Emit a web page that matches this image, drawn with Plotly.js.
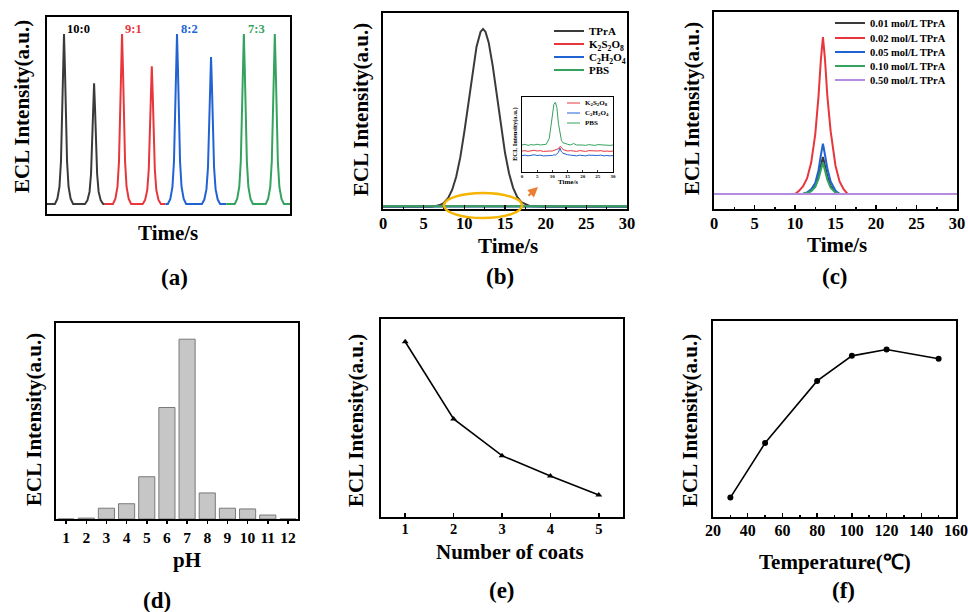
<!DOCTYPE html>
<html><head><meta charset="utf-8">
<script src="https://cdn.plot.ly/plotly-3.0.1.min.js"></script>
<style>html,body{margin:0;padding:0;background:#fff}</style>
</head><body><div id="chart" style="width:968px;height:612px"></div>
<script>
// ---------- DATA ----------
// (a) ECL peaks for four ratios (time in arbitrary units)
const aLabels = ["10:0", "9:1", "8:2", "7:3"];
const aLabelX = [10.5, 28.6, 47, 69];
const aBlackT = [0, 2.6, 3.4, 4.1, 4.6, 5.0, 5.3, 5.6, 5.9, 6.2, 6.6, 7.1, 7.8, 8.6, 12.5, 13.3, 14.0, 14.5, 14.9, 15.2, 15.5, 15.8, 16.1, 16.5, 17.0, 17.7, 18.5, 19];
const aBlackI = [0, 0, 0.03, 0.1, 0.25, 0.5, 0.8, 1, 0.8, 0.5, 0.25, 0.1, 0.03, 0, 0, 0.021, 0.071, 0.178, 0.355, 0.568, 0.71, 0.568, 0.355, 0.178, 0.071, 0.021, 0, 0];
const aRedT = [19, 21.7, 22.5, 23.2, 23.7, 24.1, 24.4, 24.7, 25.0, 25.3, 25.7, 26.2, 26.9, 27.7, 31.5, 32.3, 33.0, 33.5, 33.9, 34.2, 34.5, 34.8, 35.1, 35.5, 36.0, 36.7, 37.5, 39];
const aRedI = [0, 0, 0.03, 0.1, 0.25, 0.5, 0.8, 1, 0.8, 0.5, 0.25, 0.1, 0.03, 0, 0, 0.024, 0.081, 0.203, 0.405, 0.648, 0.81, 0.648, 0.405, 0.203, 0.081, 0.024, 0, 0];
const aBlueT = [39, 39.8, 40.6, 41.3, 41.8, 42.2, 42.5, 42.8, 43.1, 43.4, 43.8, 44.3, 45.0, 45.8, 51.0, 51.8, 52.5, 53.0, 53.4, 53.7, 54.0, 54.3, 54.6, 55.0, 55.5, 56.2, 57.0, 59];
const aBlueI = [0, 0, 0.03, 0.1, 0.25, 0.5, 0.8, 1, 0.8, 0.5, 0.25, 0.1, 0.03, 0, 0, 0.026, 0.087, 0.216, 0.433, 0.692, 0.865, 0.692, 0.433, 0.216, 0.087, 0.026, 0, 0];
const aGreenT = [59, 61.8, 62.6, 63.3, 63.8, 64.2, 64.5, 64.8, 65.1, 65.4, 65.8, 66.3, 67.0, 67.8, 72.0, 72.8, 73.5, 74.0, 74.4, 74.7, 75.0, 75.3, 75.6, 76.0, 76.5, 77.2, 78.0, 80];
const aGreenI = [0, 0, 0.03, 0.1, 0.25, 0.5, 0.8, 1, 0.8, 0.5, 0.25, 0.1, 0.03, 0, 0, 0.03, 0.1, 0.25, 0.5, 0.8, 1, 0.8, 0.5, 0.25, 0.1, 0.03, 0, 0];

// (b) co-reactant comparison
const bNames = ["TPrA", "K<sub>2</sub>S<sub>2</sub>O<sub>8</sub>", "C<sub>2</sub>H<sub>2</sub>O<sub>4</sub>", "PBS"];
const bTprT = [0, 2, 4, 6, 7, 7.5, 8, 8.5, 9, 9.5, 10, 10.5, 11, 11.5, 12, 12.3, 12.6, 13, 13.5, 14, 14.5, 15, 15.5, 16, 16.5, 17, 18, 20, 25, 30];
const bTprI = [0, 0, 0, 0, 0.01, 0.023, 0.049, 0.095, 0.169, 0.278, 0.422, 0.589, 0.759, 0.901, 0.985, 1, 0.985, 0.923, 0.79, 0.624, 0.454, 0.304, 0.188, 0.107, 0.056, 0.027, 0.005, 0, 0, 0];
const bFlatT = [0, 5, 10, 15, 20, 25, 30];
const bK2S2O8I = [0.003, 0.003, 0.003, 0.003, 0.003, 0.003, 0.003];
const bC2H2O4I = [0.002, 0.002, 0.002, 0.002, 0.002, 0.002, 0.002];
const bPbsI = [0.004, 0.004, 0.005, 0.004, 0.004, 0.004, 0.004];
// (b) inset
const insT = [0, 1, 2, 3, 4, 5, 6, 7, 8, 9, 9.5, 10, 10.5, 11, 11.5, 12, 12.5, 13, 13.5, 14, 15, 16, 17, 18, 19, 20, 21, 22, 23, 24, 25, 26, 27, 28, 29, 30];
const insPbs = [0.36, 0.37, 0.355, 0.365, 0.36, 0.37, 0.36, 0.365, 0.37, 0.45, 0.6, 0.8, 0.9, 0.93, 0.86, 0.65, 0.5, 0.42, 0.39, 0.38, 0.37, 0.36, 0.38, 0.36, 0.365, 0.36, 0.355, 0.365, 0.36, 0.355, 0.365, 0.36, 0.355, 0.36, 0.355, 0.36];
const insK2S2O8 = [0.28, 0.285, 0.275, 0.28, 0.29, 0.28, 0.285, 0.275, 0.28, 0.285, 0.28, 0.28, 0.29, 0.29, 0.3, 0.31, 0.34, 0.33, 0.3, 0.29, 0.28, 0.285, 0.28, 0.275, 0.285, 0.28, 0.275, 0.285, 0.28, 0.275, 0.28, 0.285, 0.275, 0.28, 0.275, 0.28];
const insC2H2O4 = [0.22, 0.225, 0.215, 0.22, 0.23, 0.22, 0.225, 0.215, 0.22, 0.225, 0.22, 0.22, 0.23, 0.225, 0.24, 0.26, 0.32, 0.27, 0.25, 0.24, 0.23, 0.225, 0.22, 0.215, 0.225, 0.22, 0.215, 0.225, 0.22, 0.215, 0.22, 0.225, 0.215, 0.22, 0.215, 0.22];

// (c) TPrA concentration
const cNames = ["0.01 mol/L TPrA", "0.02 mol/L TPrA", "0.05 mol/L TPrA", "0.10 mol/L TPrA", "0.50 mol/L TPrA"];
const cT = [0, 5, 10, 10.5, 11, 11.5, 12, 12.5, 12.9, 13.2, 13.45, 13.7, 14.0, 14.4, 15.0, 15.5, 16, 16.5, 20, 25, 30];
const c001 = [0, 0, 0, 0, 0, 0.008, 0.02, 0.05, 0.11, 0.18, 0.236, 0.18, 0.11, 0.05, 0.01, 0, 0, 0, 0, 0, 0];
const c002 = [0, 0, 0, 0.02, 0.05, 0.1, 0.2, 0.38, 0.62, 0.86, 1, 0.86, 0.62, 0.4, 0.18, 0.08, 0.03, 0, 0, 0, 0];
const c005 = [0, 0, 0, 0, 0, 0.01, 0.03, 0.07, 0.15, 0.25, 0.32, 0.25, 0.16, 0.08, 0.02, 0, 0, 0, 0, 0, 0];
const c010 = [0, 0, 0, 0, 0, 0.007, 0.018, 0.045, 0.095, 0.155, 0.2, 0.15, 0.09, 0.04, 0.008, 0, 0, 0, 0, 0, 0];
const c050 = [0, 0, 0, 0, 0, 0, 0, 0, 0, 0, 0, 0, 0, 0, 0, 0, 0, 0, 0, 0, 0];

// (d) pH
const dPH = [1, 2, 3, 4, 5, 6, 7, 8, 9, 10, 11, 12];
const dI = [0, 0.005, 0.06, 0.085, 0.235, 0.62, 1, 0.145, 0.06, 0.056, 0.022, 0];

// (e) number of coats
const eCoats = [1, 2, 3, 4, 5];
const eI = [1.0, 0.56, 0.35, 0.234, 0.126];

// (f) temperature
const fTemp = [30, 50, 80, 100, 120, 150];
const fI = [0.107, 0.408, 0.75, 0.888, 0.923, 0.872];

// ---------- STYLE ----------
const W = 968, H = 612;
const fx = p => p / W, fy = p => 1 - p / H;
const SERIF = "Liberation Serif, Times New Roman, serif";
const BLK = "#3a3a3a", RED = "#e8363c", BLU = "#2163d3", GRN = "#34a35e", PUR = "#b58be0";
const tickFont = s => ({family: SERIF, size: s, color: "#000", weight: "bold"});

function axis(d, extra) {
  return Object.assign({domain: d, showline: true, mirror: true, linecolor: "#000", linewidth: 2,
    zeroline: false, showgrid: false, ticks: "", showticklabels: false, fixedrange: true}, extra || {});
}
const dom = (a, b) => [fx(a), fx(b)];
const domY = (top, bot) => [fy(bot), fy(top)];

const traces = [];
// (a)
[[aBlackT, aBlackI, BLK], [aRedT, aRedI, RED], [aBlueT, aBlueI, BLU], [aGreenT, aGreenI, GRN]].forEach(s => {
  traces.push({x: s[0], y: s[1], xaxis: "x", yaxis: "y", mode: "lines", line: {color: s[2], width: 2}, showlegend: false, hoverinfo: "skip"});
});
// (b)
const bSeries = [[bTprT, bTprI, BLK], [bFlatT, bK2S2O8I, RED], [bFlatT, bC2H2O4I, BLU], [bFlatT, bPbsI, GRN]];
bSeries.forEach((s, i) => {
  traces.push({x: s[0], y: s[1], xaxis: "x2", yaxis: "y2", mode: "lines", name: bNames[i],
    line: {color: s[2], width: 2}, showlegend: true, legend: i === 0 ? "legend" : "legend" + (i + 1)});
});
// inset
[[insK2S2O8, RED], [insC2H2O4, BLU], [insPbs, GRN]].forEach(s => {
  traces.push({x: insT, y: s[0], xaxis: "x7", yaxis: "y7", mode: "lines", line: {color: s[1], width: 1}, showlegend: false, hoverinfo: "skip"});
});
// (c)
const cSeries = [[c001, BLK], [c002, RED], [c005, BLU], [c010, GRN], [c050, PUR]];
cSeries.forEach((s, i) => {
  traces.push({x: cT, y: s[0], xaxis: "x3", yaxis: "y3", mode: "lines", name: cNames[i],
    line: {color: s[1], width: 2}, showlegend: true, legend: "legend" + (i + 5)});
});
// (d)
traces.push({type: "bar", x: dPH, y: dI, xaxis: "x4", yaxis: "y4", width: 0.8,
  marker: {color: "#c6c6c6", line: {color: "#7a7a7a", width: 1}}, showlegend: false});
// (e)
traces.push({x: eCoats, y: eI, xaxis: "x5", yaxis: "y5", mode: "lines+markers",
  line: {color: "#000", width: 1.6}, marker: {symbol: "triangle-up", size: 6, color: "#000"}, showlegend: false});
// (f)
traces.push({x: fTemp, y: fI, xaxis: "x6", yaxis: "y6", mode: "lines+markers",
  line: {color: "#000", width: 1.6}, marker: {symbol: "circle", size: 6, color: "#000"}, showlegend: false});

function leg(x0, yc, size) {
  return {x: fx(x0), y: fy(yc), xanchor: "left", yanchor: "middle", bgcolor: "rgba(0,0,0,0)",
    borderwidth: 0, font: {family: SERIF, size: size, color: "#000", weight: "bold"}, tracegroupgap: 0};
}

const inTicks = (size, extra) => Object.assign({showticklabels: true, ticks: "inside", ticklen: 4, tickwidth: 1.5,
  tickcolor: "#000", tickfont: tickFont(size), ticklabelstandoff: -2}, extra || {});

const layout = {
  width: W, height: H, autosize: false, margin: {l: 0, r: 0, t: 0, b: 0},
  paper_bgcolor: "#fff", plot_bgcolor: "rgba(0,0,0,0)",
  xaxis: axis(dom(47, 290), {anchor: "y", range: [0, 80]}),
  yaxis: axis(domY(17, 214), {anchor: "x", range: [-0.059, 1.1]}),
  xaxis2: axis(dom(383, 627), Object.assign({anchor: "y2", range: [0, 30], dtick: 5,
    minor: {ticks: "inside", ticklen: 2.5, dtick: 2.5, tickcolor: "#000"}}, inTicks(16.5))),
  yaxis2: axis(domY(13, 209), {anchor: "x2", range: [-0.012, 1.09]}),
  xaxis3: axis(dom(714, 957), Object.assign({anchor: "y3", range: [0, 30], dtick: 5,
    minor: {ticks: "inside", ticklen: 2.5, dtick: 2.5, tickcolor: "#000"}}, inTicks(16.5))),
  yaxis3: axis(domY(12, 209), {anchor: "x3", range: [-0.096, 1.16]}),
  xaxis4: axis(dom(56, 298), Object.assign({anchor: "y4", range: [0.5, 12.5], tickvals: dPH}, inTicks(15.5, {ticks: "outside", ticklen: 3, ticklabelstandoff: 0}))),
  yaxis4: axis(domY(323, 519), {anchor: "x4", range: [0, 1.09]}),
  xaxis5: axis(dom(381, 623), Object.assign({anchor: "y5", range: [0.5, 5.5], tickvals: eCoats}, inTicks(14.5))),
  yaxis5: axis(domY(319, 517), {anchor: "x5", range: [0, 1.13]}),
  xaxis6: axis(dom(713, 956), Object.assign({anchor: "y6", range: [20, 160], dtick: 20,
    minor: {ticks: "inside", ticklen: 2.5, dtick: 10, tickcolor: "#000"}}, inTicks(16))),
  yaxis6: axis(domY(321, 517), {anchor: "x6", range: [0, 1.08]}),
  xaxis7: axis(dom(522, 613), {anchor: "y7", range: [0, 30], dtick: 5, linewidth: 1, showticklabels: true,
    ticks: "inside", ticklen: 2, tickwidth: 0.8, tickcolor: "#000", tickfont: tickFont(5), ticklabelstandoff: -1}),
  yaxis7: axis(domY(97, 172), {anchor: "x7", range: [0, 1], linewidth: 1}),
  legend: leg(549, 31, 11), legend2: leg(549, 44, 11), legend3: leg(549, 57, 11), legend4: leg(549, 70, 11),
  legend5: leg(830, 23, 10.5), legend6: leg(830, 38, 10.5), legend7: leg(830, 52, 10.5), legend8: leg(830, 66, 10.5), legend9: leg(830, 80, 10.5),
  shapes: [
    {type: "circle", xref: "paper", yref: "paper", x0: fx(444), x1: fx(522), y0: fy(218), y1: fy(193),
      line: {color: "#f5b400", width: 2.5}},
    {type: "line", xref: "paper", yref: "paper", x0: fx(567), x1: fx(580), y0: fy(103), y1: fy(103), line: {color: RED, width: 1}},
    {type: "line", xref: "paper", yref: "paper", x0: fx(567), x1: fx(580), y0: fy(113), y1: fy(113), line: {color: BLU, width: 1}},
    {type: "line", xref: "paper", yref: "paper", x0: fx(567), x1: fx(580), y0: fy(123), y1: fy(123), line: {color: GRN, width: 1}}
  ],
  annotations: []
};

const A = layout.annotations;
function txt(t, x, y, size, opts) {
  A.push(Object.assign({text: t, xref: "paper", yref: "paper", x: fx(x), y: fy(y), xanchor: "center", yanchor: "middle",
    showarrow: false, font: {family: SERIF, size: size, color: "#000", weight: "bold"}}, opts || {}));
}
// (a) ratio labels
const aColors = ["#000", RED, BLU, GRN];
aLabels.forEach((l, i) => A.push({text: l, xref: "x", yref: "y", x: aLabelX[i], y: 1.03, showarrow: false,
  xanchor: "center", yanchor: "middle", font: {family: SERIF, size: 12.5, color: aColors[i], weight: "bold"}}));
// axis titles
const YT = "ECL Intensity(a.u.)";
txt(YT, 22, 107, 21, {textangle: -90});
txt(YT, 361, 110, 21, {textangle: -90});
txt(YT, 692, 109, 21, {textangle: -90});
txt(YT, 34, 420, 21, {textangle: -90});
txt(YT, 356, 421, 21, {textangle: -90});
txt(YT, 690, 421, 21, {textangle: -90});
txt("Time/s", 168, 233, 21);
txt("Time/s", 508, 246, 21);
txt("Time/s", 837, 245, 21);
txt("pH", 187, 560, 21);
txt("Number of coats", 510, 552, 21);
txt("Temperature(℃)", 835, 562, 21);
// panel labels
txt("(a)", 174, 278, 23); txt("(b)", 500, 277, 23); txt("(c)", 835, 277, 23);
txt("(d)", 157, 600, 23); txt("(e)", 502, 590, 23); txt("(f)", 843, 590, 23);
// inset texts
txt(YT, 515, 134, 6.5, {textangle: -90});
txt("Time/s", 568, 182, 7);
txt("K<sub>2</sub>S<sub>2</sub>O<sub>8</sub>", 583, 103, 7, {xanchor: "left"});
txt("C<sub>2</sub>H<sub>2</sub>O<sub>4</sub>", 583, 113, 7, {xanchor: "left"});
txt("PBS", 583, 123, 7, {xanchor: "left"});
// arrow from ellipse to inset
A.push({xref: "paper", yref: "paper", x: fx(538), y: fy(187), ax: -11, ay: 10, text: "", showarrow: true,
  arrowhead: 2, arrowsize: 1, arrowwidth: 2, arrowcolor: "#ed7d31"});

Plotly.newPlot("chart", traces, layout, {staticPlot: true, displayModeBar: false});
</script></body></html>
